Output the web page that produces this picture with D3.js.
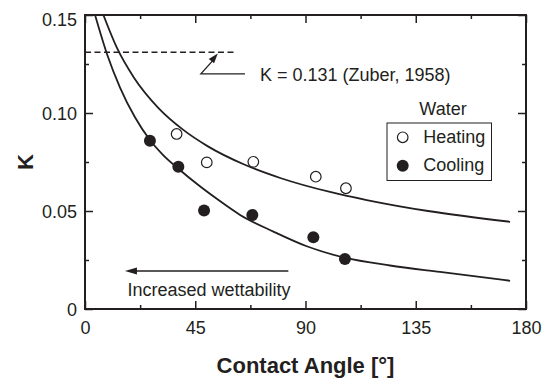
<!DOCTYPE html>
<html>
<head>
<meta charset="utf-8">
<script src="https://cdn.jsdelivr.net/npm/d3@7"></script>
<style>
  body { margin: 0; background: #ffffff; }
  text { font-family: "Liberation Sans", Arial, sans-serif; fill: #231f20; }
</style>
</head>
<body>
<div id="chart"></div>
<script>
// measured points
var heating_angle = [37.4, 49.7, 68.7, 94.2, 106.5];
var heating_k = [0.0893, 0.0748, 0.0751, 0.0675, 0.0616];
var cooling_angle = [26.5, 38.1, 48.6, 68.3, 93.2, 106.1];
var cooling_k = [0.0859, 0.0726, 0.0502, 0.048, 0.0366, 0.0255];

// model curves
var upper_angle = [7.5, 13, 20, 30, 40, 50, 65, 80, 100, 115, 140, 173.5];
var upper_k = [0.15, 0.1333, 0.118, 0.1025, 0.0915, 0.0831, 0.0737, 0.0667, 0.0597, 0.0556, 0.05, 0.0445];
var lower_angle = [4.1, 9, 14.3, 20.4, 26.5, 32, 38.5, 46, 53.8, 63.3, 76.9, 90.5, 106, 124.5, 144.9, 173.5];
var lower_k = [0.15, 0.13, 0.113, 0.0978, 0.0862, 0.0784, 0.0712, 0.0635, 0.0562, 0.048, 0.0395, 0.032, 0.0262, 0.0222, 0.0189, 0.0144];

var zuber_k = 0.131;
var zuber_end = 62;

var x_ticks = [0, 45, 90, 135, 180];
var x_minor = [22.5, 67.5, 112.5, 157.5];
var y_ticks = [0, 0.05, 0.10, 0.15];
var y_minor = [0.025, 0.075, 0.125];
var y_labels = ["0", "0.05", "0.10", "0.15"];

var margin = { top: 15, right: 25, bottom: 69, left: 85 };
var svg_width = 551;
var svg_height = 378;
var width = svg_width - margin.left - margin.right;
var height = svg_height - margin.top - margin.bottom;

var svg = d3.select("#chart").append("svg")
  .attr("width", svg_width)
  .attr("height", svg_height);

var g = svg.append("g")
  .attr("transform", `translate(${margin.left}, ${margin.top})`);

var x_scale = d3.scaleLinear().domain([0, 180]).range([0, width]);
var y_scale = d3.scaleLinear().domain([0, 0.15]).range([height, 0]);

// ticks on all four sides, pointing inward
function styleAxis(sel) {
  sel.select(".domain").remove();
  sel.selectAll("line").attr("stroke", "#231f20").attr("stroke-width", 1.5);
  sel.selectAll("text").attr("font-size", 18).attr("fill", "#231f20");
}

g.append("g")
  .attr("transform", `translate(0, ${height})`)
  .call(d3.axisBottom(x_scale).tickValues(x_ticks).tickSize(-8).tickPadding(12)
    .tickFormat(d3.format("d")))
  .call(styleAxis);
g.append("g")
  .attr("transform", `translate(0, ${height})`)
  .call(d3.axisBottom(x_scale).tickValues(x_minor).tickSize(-4).tickFormat(""))
  .call(styleAxis);
g.append("g")
  .call(d3.axisTop(x_scale).tickValues(x_ticks).tickSize(-8).tickFormat(""))
  .call(styleAxis);
g.append("g")
  .call(d3.axisTop(x_scale).tickValues(x_minor).tickSize(-4).tickFormat(""))
  .call(styleAxis);

g.append("g")
  .call(d3.axisLeft(y_scale).tickValues(y_ticks).tickSize(-8).tickPadding(8)
    .tickFormat(function(d, i) { return y_labels[i]; }))
  .call(styleAxis)
  .selectAll("text")
  .attr("dy", function(d) { return d === 0.15 ? "0.6em" : "0.38em"; });
g.append("g")
  .call(d3.axisLeft(y_scale).tickValues(y_minor).tickSize(-4).tickFormat(""))
  .call(styleAxis);
g.append("g")
  .attr("transform", `translate(${width}, 0)`)
  .call(d3.axisRight(y_scale).tickValues(y_ticks).tickSize(-8).tickFormat(""))
  .call(styleAxis);
g.append("g")
  .attr("transform", `translate(${width}, 0)`)
  .call(d3.axisRight(y_scale).tickValues(y_minor).tickSize(-4).tickFormat(""))
  .call(styleAxis);

// frame
g.append("rect")
  .attr("width", width)
  .attr("height", height)
  .attr("fill", "none")
  .attr("stroke", "#231f20")
  .attr("stroke-width", 2);

g.append("clipPath").attr("id", "plot_clip")
  .append("rect").attr("width", width).attr("height", height);

// Zuber line
g.append("line")
  .attr("x1", x_scale(0))
  .attr("x2", x_scale(zuber_end))
  .attr("y1", y_scale(zuber_k))
  .attr("y2", y_scale(zuber_k))
  .attr("stroke", "#231f20")
  .attr("stroke-width", 1.5)
  .attr("stroke-dasharray", "6,3.5");

// curves
var line = d3.line()
  .x(function(d) { return x_scale(d[0]); })
  .y(function(d) { return y_scale(d[1]); })
  .curve(d3.curveMonotoneX);

var upper = upper_angle.map(function(a, i) { return [a, upper_k[i]]; });
var lower = lower_angle.map(function(a, i) { return [a, lower_k[i]]; });

[upper, lower].forEach(function(c) {
  g.append("path")
    .datum(c)
    .attr("clip-path", "url(#plot_clip)")
    .attr("fill", "none")
    .attr("stroke", "#231f20")
    .attr("stroke-width", 1.8)
    .attr("d", line);
});

// points
var heating = heating_angle.map(function(a, i) { return [a, heating_k[i]]; });
var cooling = cooling_angle.map(function(a, i) { return [a, cooling_k[i]]; });

g.selectAll(".heat").data(heating).enter().append("circle")
  .attr("cx", function(d) { return x_scale(d[0]); })
  .attr("cy", function(d) { return y_scale(d[1]); })
  .attr("r", 5.3)
  .attr("fill", "#ffffff")
  .attr("stroke", "#231f20")
  .attr("stroke-width", 1.2);

g.selectAll(".cool").data(cooling).enter().append("circle")
  .attr("cx", function(d) { return x_scale(d[0]); })
  .attr("cy", function(d) { return y_scale(d[1]); })
  .attr("r", 6)
  .attr("fill", "#231f20");

// arrowheads
function arrowHead(x1, y1, x2, y2, len, half) {
  var a = Math.atan2(y2 - y1, x2 - x1);
  var bx = x2 - len * Math.cos(a), by = y2 - len * Math.sin(a);
  var px = -Math.sin(a) * half, py = Math.cos(a) * half;
  g.append("path")
    .attr("d", `M${x2},${y2}L${bx + px},${by + py}L${bx - px},${by - py}Z`)
    .attr("fill", "#231f20");
}

// Zuber annotation
var zx0 = x_scale(47.3), zy0 = y_scale(0.12);
var zx1 = x_scale(54.2), zy1 = y_scale(0.1304);
g.append("path")
  .attr("d", `M${x_scale(65.3)},${zy0}L${zx0},${zy0}L${zx1 - 3},${zy1 + 5}`)
  .attr("fill", "none")
  .attr("stroke", "#231f20")
  .attr("stroke-width", 1.3);
arrowHead(zx0, zy0, zx1, zy1, 10, 3.5);
g.append("text")
  .attr("x", x_scale(71.4))
  .attr("y", 65.5)
  .attr("font-size", 18)
  .text("K = 0.131 (Zuber, 1958)");

// wettability annotation
var wy = y_scale(0.0194);
g.append("line")
  .attr("x1", x_scale(83))
  .attr("x2", x_scale(20))
  .attr("y1", wy)
  .attr("y2", wy)
  .attr("stroke", "#231f20")
  .attr("stroke-width", 1.3);
arrowHead(x_scale(83), wy, x_scale(16.3), wy, 12, 3.5);
g.append("text")
  .attr("x", x_scale(17.3))
  .attr("y", 281)
  .attr("font-size", 18)
  .text("Increased wettability");

// legend
var legend = g.append("g").attr("transform", "translate(302, 108)");
legend.append("text")
  .attr("x", 56)
  .attr("y", -8)
  .attr("text-anchor", "middle")
  .attr("font-size", 18)
  .text("Water");
legend.append("rect")
  .attr("width", 104.5)
  .attr("height", 57.5)
  .attr("fill", "#ffffff")
  .attr("stroke", "#231f20")
  .attr("stroke-width", 1);
legend.append("circle")
  .attr("cx", 15.7).attr("cy", 14.3).attr("r", 5.3)
  .attr("fill", "#ffffff").attr("stroke", "#231f20").attr("stroke-width", 1.2);
legend.append("circle")
  .attr("cx", 15.7).attr("cy", 42.7).attr("r", 6)
  .attr("fill", "#231f20");
legend.append("text").attr("x", 36.3).attr("y", 19.7).attr("font-size", 18).text("Heating");
legend.append("text").attr("x", 36.3).attr("y", 47.7).attr("font-size", 18).text("Cooling");

// axis titles
svg.append("text")
  .attr("x", 305.5)
  .attr("y", 373)
  .attr("text-anchor", "middle")
  .attr("font-size", 22)
  .attr("font-weight", "bold")
  .text("Contact Angle [°]");
svg.append("text")
  .attr("transform", "translate(33, 162) rotate(-90)")
  .attr("text-anchor", "middle")
  .attr("font-size", 22)
  .attr("font-weight", "bold")
  .text("K");
</script>
</body>
</html>
